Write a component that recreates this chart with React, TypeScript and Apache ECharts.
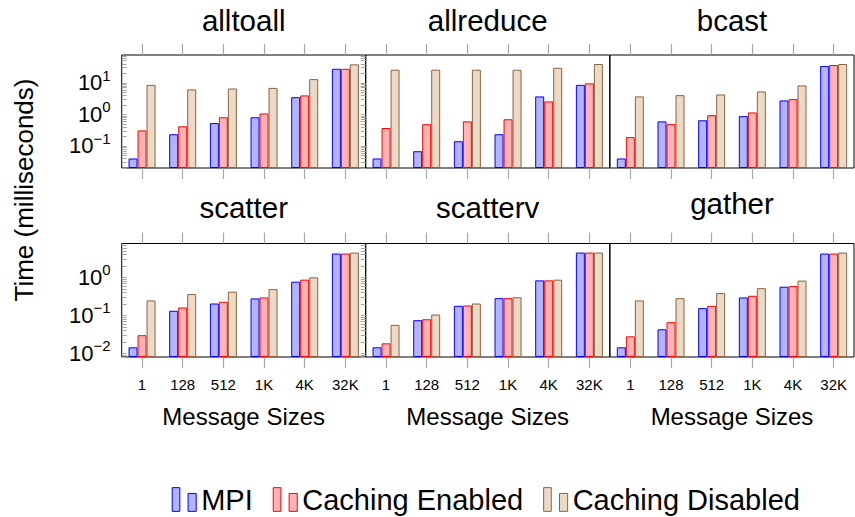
import React, { useEffect, useRef } from 'react';
import * as echarts from 'echarts';

// ---------- data ----------
const categories = ['1', '128', '512', '1K', '4K', '32K'];
const seriesNames = ['MPI', 'Caching Enabled', 'Caching Disabled'];
const panelTitles = ['alltoall', 'allreduce', 'bcast', 'scatter', 'scatterv', 'gather'];

const alltoallMPI = [0.04, 0.235, 0.53, 0.81, 3.5, 27.8];
const alltoallEnabled = [0.31, 0.42, 0.81, 1.07, 3.98, 27.8];
const alltoallDisabled = [8.6, 6.2, 6.6, 6.9, 13.1, 38.4];

const allreduceMPI = [0.04, 0.068, 0.141, 0.235, 3.7, 8.6];
const allreduceEnabled = [0.37, 0.49, 0.6, 0.7, 2.57, 9.6];
const allreduceDisabled = [25.9, 25.9, 25.9, 25.9, 29.9, 39.3];

const bcastMPI = [0.04, 0.6, 0.65, 0.88, 2.76, 33.9];
const bcastEnabled = [0.19, 0.49, 0.94, 1.15, 3.04, 36.5];
const bcastDisabled = [3.7, 4.07, 4.28, 5.33, 8.26, 39.3];

const scatterMPI = [0.0144, 0.132, 0.205, 0.279, 0.77, 4.24];
const scatterEnabled = [0.03, 0.161, 0.228, 0.296, 0.87, 4.24];
const scatterDisabled = [0.247, 0.363, 0.42, 0.49, 1.0, 4.5];

const scattervMPI = [0.0144, 0.0745, 0.178, 0.284, 0.834, 4.5];
const scattervEnabled = [0.0183, 0.079, 0.182, 0.284, 0.834, 4.5];
const scattervDisabled = [0.056, 0.105, 0.205, 0.3, 0.87, 4.5];

const gatherMPI = [0.0144, 0.043, 0.155, 0.296, 0.567, 4.24];
const gatherEnabled = [0.028, 0.066, 0.178, 0.327, 0.59, 4.24];
const gatherDisabled = [0.247, 0.284, 0.386, 0.52, 0.82, 4.5];

const panelData = [
  [alltoallMPI, alltoallEnabled, alltoallDisabled],
  [allreduceMPI, allreduceEnabled, allreduceDisabled],
  [bcastMPI, bcastEnabled, bcastDisabled],
  [scatterMPI, scatterEnabled, scatterDisabled],
  [scattervMPI, scattervEnabled, scattervDisabled],
  [gatherMPI, gatherEnabled, gatherDisabled],
];

const rowRanges = [
  [0.02, 76],
  [0.008, 7.8],
];
const rowLabelTicks = [
  [0.1, 1, 10],
  [0.01, 0.1, 1],
];
const yAxisTitle = 'Time (milliseconds)';
const xAxisTitle = 'Message Sizes';

// ---------- styles ----------
const FONT = '"Liberation Sans", Arial, Helvetica, sans-serif';
const FILLS = ['#b3b3ff', '#ffb3b3', '#ecd9c6'];
const BORDERS = ['#0000ff', '#ff0000', '#8b6340'];
const TICK_COLOR = '#a8a8a8';
const GRID_LEFTS = [121.7, 365.7, 610];
const GRID_W = 244;
const ROW_TOPS = [55, 243.5];
const ROW_H = [113, 113.5];
const TITLE_Y = [20, 20, 20, 207, 207.5, 203];

function logTickValues(min: number, max: number): number[] {
  const out: number[] = [];
  const d0 = Math.floor(Math.log10(min));
  const d1 = Math.ceil(Math.log10(max));
  for (let d = d0; d <= d1; d++) {
    for (let m = 1; m <= 9; m++) {
      const v = Number((m * Math.pow(10, d)).toPrecision(6));
      if (v >= min * 0.999 && v <= max * 1.001) out.push(v);
    }
  }
  return out;
}

function supLabel(v: number): string {
  const e = Math.round(Math.log10(v));
  const s = e < 0 ? '\u2212' + String(-e) : String(e);
  return '{b|10}{e|' + s + '}';
}

function buildOption() {
  const grids: any[] = [];
  const xAxes: any[] = [];
  const yAxes: any[] = [];
  const series: any[] = [];
  const graphics: any[] = [];

  for (let g = 0; g < 6; g++) {
    const row = Math.floor(g / 3);
    const col = g % 3;
    const [ymin, ymax] = rowRanges[row];
    grids.push({
      left: GRID_LEFTS[col],
      top: ROW_TOPS[row],
      width: GRID_W,
      height: ROW_H[row],
      show: true,
      borderColor: '#000',
      borderWidth: 1,
      backgroundColor: 'transparent',
      containLabel: false,
    });
    const bottomIdx = xAxes.length;
    xAxes.push({
      type: 'category',
      gridIndex: g,
      data: categories,
      position: 'bottom',
      boundaryGap: true,
      axisLine: { show: false },
      axisTick: {
        show: true,
        alignWithLabel: true,
        inside: false,
        length: 11,
        lineStyle: { color: TICK_COLOR, width: 1.2 },
      },
      axisLabel: {
        show: row === 1,
        margin: 20,
        fontSize: 15,
        color: '#000',
        fontFamily: FONT,
        interval: 0,
      },
      name: row === 1 ? xAxisTitle : '',
      nameLocation: 'middle',
      nameGap: 47,
      nameTextStyle: { fontSize: 24, color: '#000', fontFamily: FONT },
      splitLine: { show: false },
    });
    xAxes.push({
      type: 'category',
      gridIndex: g,
      data: categories,
      position: 'top',
      boundaryGap: true,
      axisLine: { show: false },
      axisTick: {
        show: true,
        alignWithLabel: true,
        inside: false,
        length: 11,
        lineStyle: { color: TICK_COLOR, width: 1.2 },
      },
      axisLabel: { show: false },
      splitLine: { show: false },
    });

    const tickVals = logTickValues(ymin, ymax);
    const mainY = yAxes.length;
    const isFirstCol = col === 0;
    yAxes.push({
      type: 'log',
      logBase: 10,
      gridIndex: g,
      min: ymin,
      max: ymax,
      startValue: ymin,
      position: 'left',
      show: isFirstCol,
      axisLine: { show: false },
      splitLine: { show: false },
      axisTick: {
        show: isFirstCol,
        inside: true,
        length: 5,
        customValues: tickVals,
        lineStyle: { color: TICK_COLOR, width: 1 },
      },
      axisLabel: {
        show: isFirstCol,
        margin: 11,
        customValues: rowLabelTicks[row],
        formatter: (v: number) => supLabel(v),
        color: '#000',
        fontFamily: FONT,
        rich: {
          b: { fontSize: 22, lineHeight: 30, color: '#000', fontFamily: FONT },
          e: { fontSize: 15, lineHeight: 15, verticalAlign: 'top', color: '#000', fontFamily: FONT },
        },
      },
    });
    if (isFirstCol) {
      yAxes.push({
        type: 'log',
        logBase: 10,
        gridIndex: g,
        min: ymin,
        max: ymax,
        startValue: ymin,
        position: 'right',
        axisLine: { show: false },
        splitLine: { show: false },
        axisTick: {
          show: true,
          inside: true,
          length: 5,
          customValues: tickVals,
          lineStyle: { color: TICK_COLOR, width: 1 },
        },
        axisLabel: { show: false },
      });
    }

    for (let s = 0; s < 3; s++) {
      series.push({
        type: 'bar',
        name: seriesNames[s],
        xAxisIndex: bottomIdx,
        yAxisIndex: mainY,
        data: panelData[g][s],
        barWidth: 9,
        barGap: '0%',
        itemStyle: { color: FILLS[s], borderColor: BORDERS[s], borderWidth: 1 },
        emphasis: { disabled: true },
      });
    }

    graphics.push({
      type: 'text',
      x: GRID_LEFTS[col] + GRID_W / 2,
      y: TITLE_Y[g],
      style: {
        text: panelTitles[g],
        fontSize: 29.5,
        fontFamily: FONT,
        fill: '#000',
        align: 'center',
        verticalAlign: 'middle',
      },
    });
  }

  graphics.push({
    type: 'text',
    x: 24,
    y: 190,
    rotation: Math.PI / 2,
    style: {
      text: yAxisTitle,
      fontSize: 26,
      fontFamily: FONT,
      fill: '#000',
      align: 'center',
      verticalAlign: 'middle',
    },
  });

  return {
    animation: false,
    backgroundColor: '#fff',
    textStyle: { fontFamily: FONT },
    grid: grids,
    xAxis: xAxes,
    yAxis: yAxes,
    series,
    graphic: graphics,
    legend: {
      left: 171.7,
      top: 485,
      padding: 0,
      itemWidth: 24,
      itemHeight: 24,
      itemGap: 20,
      icon: 'path://M0,0H7.5V23.3H0Z M15.6,5.7H23.6V23.3H15.6Z',
      textStyle: { fontSize: 29, color: '#000', fontFamily: FONT },
      data: seriesNames.map((n, i) => ({
        name: n,
        itemStyle: { color: FILLS[i], borderColor: BORDERS[i], borderWidth: 1 },
      })),
      selectedMode: false,
    },
  };
}

export default function App() {
  const ref = useRef<HTMLDivElement>(null);
  useEffect(() => {
    if (!ref.current) return;
    const chart = echarts.init(ref.current, undefined, { renderer: 'svg' });
    chart.setOption(buildOption() as any);
    return () => chart.dispose();
  }, []);
  return (
    <div
      ref={ref}
      style={{ position: 'absolute', left: 0, top: 0, width: 855, height: 517 }}
    />
  );
}
